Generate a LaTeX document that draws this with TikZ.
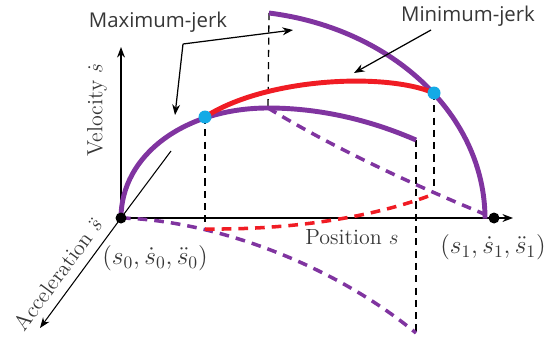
\documentclass[tikz,border=0pt]{standalone}
\usepackage{amsmath}
\usepackage{fontspec}
\usetikzlibrary{arrows.meta}
\newfontfamily\jerkfont{Open Sans}
\definecolor{jerkpurple}{RGB}{128,52,160}
\definecolor{jerkred}{RGB}{240,28,36}
\definecolor{jerkblue}{RGB}{20,170,230}
\definecolor{labelgray}{RGB}{55,55,55}

\begin{document}
\begin{tikzpicture}[x=0.02cm,y=0.02cm,
  axis/.style={line width=0.85pt,-{Stealth[length=6pt,width=4.5pt]}},
  maxjerk/.style={line width=2.8pt,jerkpurple},
  minjerk/.style={line width=2.8pt,jerkred},
  accdash/.style={line width=2pt,dash pattern=on 5.5pt off 4pt},
  proj/.style={line width=0.75pt,dash pattern=on 4pt off 3pt},
  pointer/.style={line width=0.7pt,-{Stealth[length=6pt,width=4.5pt]}},
  serif/.style={text=labelgray,font=\fontsize{12.5}{15}\selectfont},
  sans/.style={text=labelgray,font=\jerkfont\fontsize{11.6}{14}\selectfont}]
\useasboundingbox (0,0) rectangle (550,342);

% start and end states
\coordinate (O) at (121,124);
\coordinate (E) at (494,124);
% axes
\coordinate (Vtip) at (121,295);
\coordinate (Ptip) at (513,124);
\coordinate (Atip) at (40,14);
\coordinate (Aback) at (171,191);
% switching points
\coordinate (A) at (205,225);
\coordinate (B) at (434,249);
\coordinate (Ptop) at (268,234);
\coordinate (L) at (416,202);
\coordinate (U) at (269,329);
% projections in the acceleration plane
\coordinate (Aacc) at (205,113);
\coordinate (Bacc) at (434,148);
\coordinate (Lacc) at (416,9);

\draw[axis] (O) -- (Vtip);
\draw[axis] (O) -- (Ptip);
\draw[line width=0.6pt] (Aback) -- (O);
\draw[axis,line width=0.6pt] (O) -- (Atip);

% projection lines
\draw[proj] (A) -- (Aacc);
\draw[proj] (U) -- (Ptop);
\draw[proj] (L) -- (Lacc);
\draw[proj] (B) -- (Bacc);

% acceleration profiles
\draw[accdash,jerkpurple] (O) .. controls (210,122) and (330,80) .. (Lacc);
\draw[accdash,jerkpurple] (Ptop) .. controls (340,190) and (430,150) .. (E);
\draw[accdash,jerkred] (Aacc) .. controls (300,112) and (380,127) .. (Bacc);

% velocity profiles
\draw[maxjerk] (O) .. controls (121,187) and (185,234) .. (Ptop)
  .. controls (320,234) and (370,222) .. (L);
\draw[maxjerk] (U) arc[start angle=81.2,end angle=0,x radius=255,y radius=208];
\draw[minjerk] (A) .. controls (265,264) and (385,270) .. (B);

\fill[jerkblue] (A) circle (6.5);
\fill[jerkblue] (B) circle (6.5);
\fill (O) circle (5.5);
\fill (E) circle (5.5);

% labels
\node[serif,rotate=90] (vel) at (97,232) {Velocity $\dot{s}$};
\node[serif] (pos) at (352,105) {Position $s$};
\node[serif,rotate=53.6] (acc) at (58,68) {Acceleration $\ddot{s}$};
\node[serif,font=\fontsize{14}{16}\selectfont] (start) at (155,84) {$(s_0,\dot{s}_0,\ddot{s}_0)$};
\node[serif,font=\fontsize{14}{16}\selectfont] (goal) at (493,95) {$(s_1,\dot{s}_1,\ddot{s}_1)$};

\node[sans] (maxlbl) at (158,320) {Maximum-jerk};
\node[sans] (minlbl) at (468,326) {Minimum-jerk};
\coordinate (maxbend) at (183,298);
\coordinate (maxlow) at (175,227);
\coordinate (maxhigh) at (293,312);
\coordinate (minfrom) at (431,312);
\coordinate (minto) at (354,269);
\draw[pointer] (maxbend) -- (maxlow);
\draw[pointer] (maxbend) -- (maxhigh);
\draw[pointer] (minfrom) -- (minto);
\end{tikzpicture}
\end{document}
